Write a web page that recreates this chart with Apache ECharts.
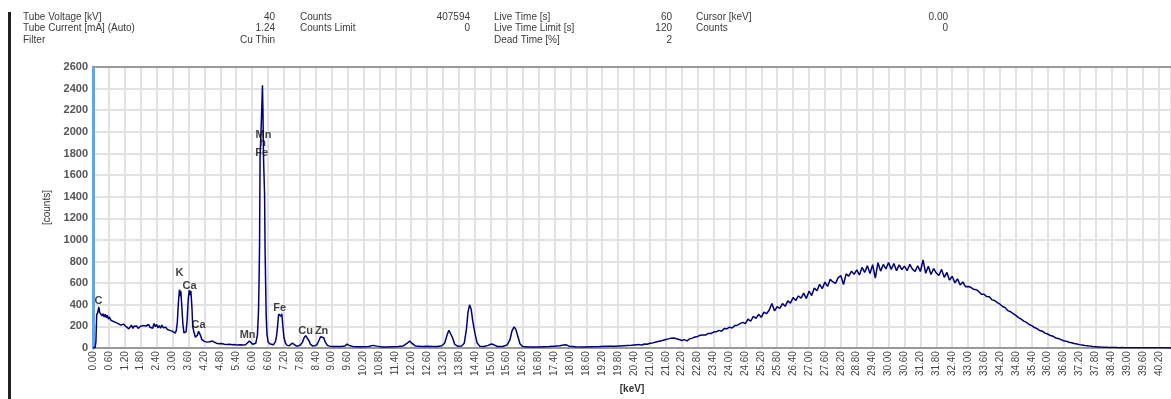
<!DOCTYPE html>
<html>
<head>
<meta charset="utf-8">
<script src="https://cdn.jsdelivr.net/npm/echarts@6/dist/echarts.min.js"></script>
<style>
html,body{margin:0;padding:0;background:#fff;}
#chart{width:1171px;height:399px;}
</style>
</head>
<body>
<div id="chart"></div>
<script>
// ---------- header information ----------
const headerCol1Labels = ['Tube Voltage [kV]', 'Tube Current [mA] (Auto)', 'Filter'];
const headerCol1Values = ['40', '1.24', 'Cu Thin'];
const headerCol2Labels = ['Counts', 'Counts Limit', ''];
const headerCol2Values = ['407594', '0', ''];
const headerCol3Labels = ['Live Time [s]', 'Live Time Limit [s]', 'Dead Time [%]'];
const headerCol3Values = ['60', '120', '2'];
const headerCol4Labels = ['Cursor [keV]', 'Counts', ''];
const headerCol4Values = ['0.00', '0', ''];

// ---------- spectrum: [keV, counts] low-energy part with peaks ----------
const spectrumLow = [
[0.00,0],[0.08,5],[0.11,60],[0.14,310],[0.18,330],[0.22,380],[0.25,330],[0.30,320],[0.34,298],[0.38,318],
[0.42,288],[0.46,312],[0.50,282],[0.54,302],[0.58,268],[0.62,288],[0.66,262],[0.70,274],[0.75,248],[0.80,260],
[0.85,238],[0.90,248],[0.95,226],[1.00,238],[1.05,212],[1.10,206],[1.15,222],[1.20,228],[1.25,198],[1.30,208],
[1.35,178],[1.40,196],[1.45,212],[1.50,182],[1.55,202],[1.60,186],[1.65,204],[1.70,182],[1.75,198],[1.80,202],
[1.85,186],[1.90,208],[1.95,192],[2.00,204],[2.05,188],[2.10,218],[2.15,192],[2.20,208],[2.25,184],[2.30,228],
[2.35,198],[2.40,218],[2.45,188],[2.50,208],[2.55,184],[2.60,212],[2.65,188],[2.70,178],[2.75,192],[2.80,172],
[2.85,182],[2.90,164],[2.95,172],[3.00,154],[3.05,150],[3.10,138],[3.14,160],[3.18,240],[3.22,420],[3.26,540],
[3.29,480],[3.31,530],[3.35,380],[3.39,220],[3.43,140],[3.47,125],[3.51,150],[3.55,260],[3.59,450],[3.63,535],
[3.66,490],[3.69,530],[3.73,380],[3.76,200],[3.79,165],[3.82,170],[3.86,100],[3.90,95],[3.94,120],[3.98,155],
[4.02,150],[4.06,115],[4.10,80],[4.15,70],[4.20,62],[4.30,55],[4.40,58],[4.50,65],[4.55,55],[4.65,45],
[4.75,40],[4.85,42],[4.95,35],[5.05,32],[5.15,35],[5.25,30],[5.35,32],[5.45,28],[5.55,30],[5.65,28],
[5.75,30],[5.82,45],[5.90,66],[5.96,60],[6.02,35],[6.08,32],[6.14,45],[6.20,120],[6.24,330],[6.26,600],
[6.28,930],[6.30,1760],[6.33,1770],[6.36,2180],[6.39,2430],[6.41,2170],[6.43,1760],[6.45,1750],[6.47,1420],[6.49,900],
[6.51,600],[6.53,300],[6.56,130],[6.60,60],[6.66,40],[6.72,28],[6.80,30],[6.88,60],[6.92,110],[6.96,200],
[7.00,315],[7.04,310],[7.08,295],[7.12,318],[7.16,200],[7.20,100],[7.26,45],[7.32,25],[7.40,22],[7.46,40],
[7.52,45],[7.58,28],[7.66,20],[7.74,20],[7.82,28],[7.90,55],[7.96,95],[8.02,115],[8.08,110],[8.14,70],
[8.20,35],[8.28,20],[8.36,22],[8.44,30],[8.52,70],[8.58,105],[8.64,115],[8.70,95],[8.76,55],[8.84,25],
[8.92,18],[9.05,15],[9.20,14],[9.35,15],[9.50,20],[9.58,36],[9.66,25],[9.80,14],[10.00,12],[10.20,12],
[10.40,14],[10.55,25],[10.62,30],[10.70,18],[10.90,10],[11.10,10],[11.30,12],[11.50,14],[11.70,20],[11.85,45],
[11.94,66],[12.02,45],[12.15,20],[12.40,14],[12.60,18],[12.80,15],[13.00,15],[13.15,22],[13.26,45],[13.35,120],
[13.42,165],[13.48,150],[13.55,100],[13.64,35],[13.75,18],[13.90,20],[14.00,45],[14.08,170],[14.14,330],[14.20,400],
[14.26,360],[14.32,250],[14.40,140],[14.48,50],[14.58,18],[14.75,15],[14.90,25],[15.02,38],[15.12,30],[15.25,15],
[15.45,15],[15.62,30],[15.72,75],[15.80,160],[15.88,196],[15.94,175],[16.02,110],[16.10,40],[16.20,15],[16.40,10],
[16.60,10],[16.80,10],[17.00,12],[17.20,14],[17.40,18],[17.60,22],[17.75,28],[17.85,30],[17.95,18],[18.20,12],
[18.50,10],[18.80,12],[19.10,14],[19.40,17],[19.70,18],[20.00,22],[20.30,26],[20.50,30]
];

// ---------- spectrum: bremsstrahlung hump, channels from 20.6 keV every 0.1 keV ----------
const humpStartKeV = 20.6;
const humpStepKeV = 0.1;
const humpCounts = [
32,28,38,35,44,48,54,60,66,72,80,85,92,94,86,80,70,78,66,86,
92,102,108,118,122,120,136,134,148,150,164,156,180,178,194,186,208,212,226,238,
226,268,248,294,274,312,284,332,318,352,412,344,384,366,412,386,436,416,468,440,
482,462,508,458,526,486,556,530,590,550,610,570,636,612,598,652,670,588,686,666,
712,682,724,676,746,700,762,690,772,648,790,712,774,732,792,728,782,716,770,726,
758,716,774,730,708,760,708,815,692,756,680,736,694,672,728,654,700,628,664,604,
640,584,612,568,570,562,544,540,524,498,498,476,474,446,440,420,406,384,374,346,
336,318,302,282,268,250,238,218,208,190,180,162,156,138,130,116,110,94,88,78,
68,64,54,50,42,37,32,28,24,21,18,15,13,11,9,8,7,6,6,5,
5,4,5,4,4,4,3,4,3,3,3,3,2,3,2,2,2,2,2,1,
2,1
];

// ---------- peak annotations ----------
const peakLabelNames = ['C', 'K', 'Ca', 'Ca', 'Mn', 'Mn', 'h', 'Fe', 'Fe', 'Cu', 'Zn'];
const peakLabelKeV   = [0.21, 3.26, 3.64, 3.98, 5.83, 6.43, 6.40, 6.36, 7.04, 8.02, 8.62];
const peakLabelCounts= [433, 695, 578, 217, 117, 1967, 1895, 1805, 370, 162, 162];

// ---------- axes ----------
const xMin = 0, xMax = 40.65, xStep = 0.6;
const yMin = 0, yMax = 2600, yStep = 200;

const spectrum = spectrumLow.concat(
  humpCounts.map((c, i) => [+(humpStartKeV + i * humpStepKeV).toFixed(2), c])
);

const FONT = '"Liberation Sans", Arial, sans-serif';

function headerColumn(labels, values, labelX, valueX) {
  const out = [];
  const rowsY = [18, 29.5, 41];
  labels.forEach((t, i) => {
    if (t) out.push({type:'text', left: labelX, top: rowsY[i] - 6,
      style:{text:t, fontSize:10, fontFamily:FONT, fill:'#3a3a3a'}});
  });
  values.forEach((t, i) => {
    if (t) out.push({type:'text', right: 1171 - valueX, top: rowsY[i] - 6,
      style:{text:t, fontSize:10, fontFamily:FONT, fill:'#3a3a3a', textAlign:'right'}});
  });
  return out;
}

const chart = echarts.init(document.getElementById('chart'), null, {renderer:'canvas'});

const graphics = [
  {type:'rect', shape:{x:8, y:12, width:3, height:387}, style:{fill:'#222'}}
].concat(
  headerColumn(headerCol1Labels, headerCol1Values, 23, 275),
  headerColumn(headerCol2Labels, headerCol2Values, 300, 470),
  headerColumn(headerCol3Labels, headerCol3Values, 494, 672),
  headerColumn(headerCol4Labels, headerCol4Values, 696, 948)
);

chart.setOption({
  animation: false,
  backgroundColor: '#fff',
  graphic: graphics,
  grid: {left: 93, top: 67, right: 0, bottom: 44, containLabel: false},
  xAxis: [{
    type: 'value', min: xMin, max: xMax, interval: xStep,
    name: '[keV]', nameLocation: 'middle', nameGap: 34,
    nameTextStyle: {fontSize: 10, fontWeight: 'bold', color: '#333', fontFamily: FONT},
    axisLine: {show: true, lineStyle: {color: '#9a9a9a', width: 2}},
    axisTick: {show: false},
    axisLabel: {rotate: 90, fontSize: 10, color: '#444', fontFamily: FONT, margin: 3,
      showMaxLabel: false, formatter: v => v.toFixed(2)},
    splitLine: {show: true, lineStyle: {color: '#e2e2e2', width: 2}}
  }, {
    type: 'value', position: 'top', min: xMin, max: xMax,
    axisLine: {show: true, onZero: false, lineStyle: {color: '#9a9a9a', width: 2}},
    axisTick: {show: false}, axisLabel: {show: false}, splitLine: {show: false}
  }],
  yAxis: {
    type: 'value', min: yMin, max: yMax, interval: yStep,
    name: '[counts]', nameLocation: 'middle', nameGap: 40,
    nameTextStyle: {fontSize: 10, color: '#333', fontFamily: FONT},
    axisLine: {show: true, lineStyle: {color: '#55aaf5', width: 3}},
    axisTick: {show: false},
    axisLabel: {fontSize: 11, fontWeight: 'bold', color: '#555', fontFamily: FONT, margin: 5,
      formatter: v => String(v)},
    splitLine: {show: true, lineStyle: {color: '#e2e2e2', width: 2}}
  },
  series: [{
    type: 'line', data: spectrum, showSymbol: false, symbol: 'none',
    lineStyle: {color: '#00007a', width: 1.5},
    z: 3
  }, {
    type: 'scatter', symbolSize: 0,
    data: peakLabelNames.map((n, i) => ({name: n, value: [peakLabelKeV[i], peakLabelCounts[i]]})),
    label: {show: true, position: 'inside', formatter: p => p.name,
      fontSize: 11, fontWeight: 'bold', color: '#111', fontFamily: FONT},
    labelLayout: {hideOverlap: false},
    z: 4
  }]
});
</script>
</body>
</html>
